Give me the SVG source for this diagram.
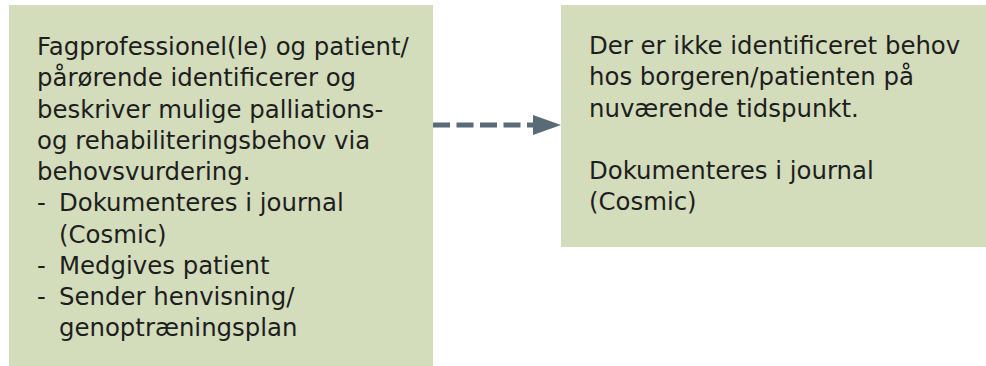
<svg xmlns="http://www.w3.org/2000/svg" width="986" height="366" viewBox="0 0 986 366">
<defs>
<style>
.box{fill:#d3dcbb;}
.t{font-family:"DejaVu Sans","Liberation Sans",sans-serif;font-size:24.4px;fill:#1e1e1e;}
.conn{stroke:#596b77;stroke-width:5;stroke-dasharray:17 6.5;fill:none;}
</style>
<marker id="ah" markerWidth="28" markerHeight="20" refX="0" refY="10" orient="auto" markerUnits="userSpaceOnUse">
<path d="M0,0 L28,10 L0,20 Z" fill="#596b77"/>
</marker>
</defs>
<g id="node-left">
<rect class="box" x="9" y="5" width="424" height="361"/>
<text class="t">
<tspan x="37" y="55">Fagprofessionel(le) og patient/</tspan>
<tspan x="37" y="86.25">pårørende identificerer og</tspan>
<tspan x="37" y="117.5">beskriver mulige palliations-</tspan>
<tspan x="37" y="148.75">og rehabiliteringsbehov via</tspan>
<tspan x="37" y="180">behovsvurdering.</tspan>
<tspan x="37" y="211.25">-</tspan><tspan x="59" y="211.25">Dokumenteres i journal</tspan>
<tspan x="59" y="242.5">(Cosmic)</tspan>
<tspan x="37" y="273.75">-</tspan><tspan x="59" y="273.75">Medgives patient</tspan>
<tspan x="37" y="305">-</tspan><tspan x="59" y="305">Sender henvisning/</tspan>
<tspan x="59" y="336.25">genoptræningsplan</tspan>
</text>
</g>
<g id="node-right">
<rect class="box" x="561" y="5" width="425" height="242"/>
<text class="t">
<tspan x="589" y="54">Der er ikke identificeret behov</tspan>
<tspan x="589" y="85.25">hos borgeren/patienten på</tspan>
<tspan x="589" y="116.5">nuværende tidspunkt.</tspan>
<tspan x="589" y="179">Dokumenteres i journal</tspan>
<tspan x="589" y="210.25">(Cosmic)</tspan>
</text>
</g>
<g id="connectors">
<path class="conn" d="M433,125 L533,125" marker-end="url(#ah)"/>
</g>
</svg>
